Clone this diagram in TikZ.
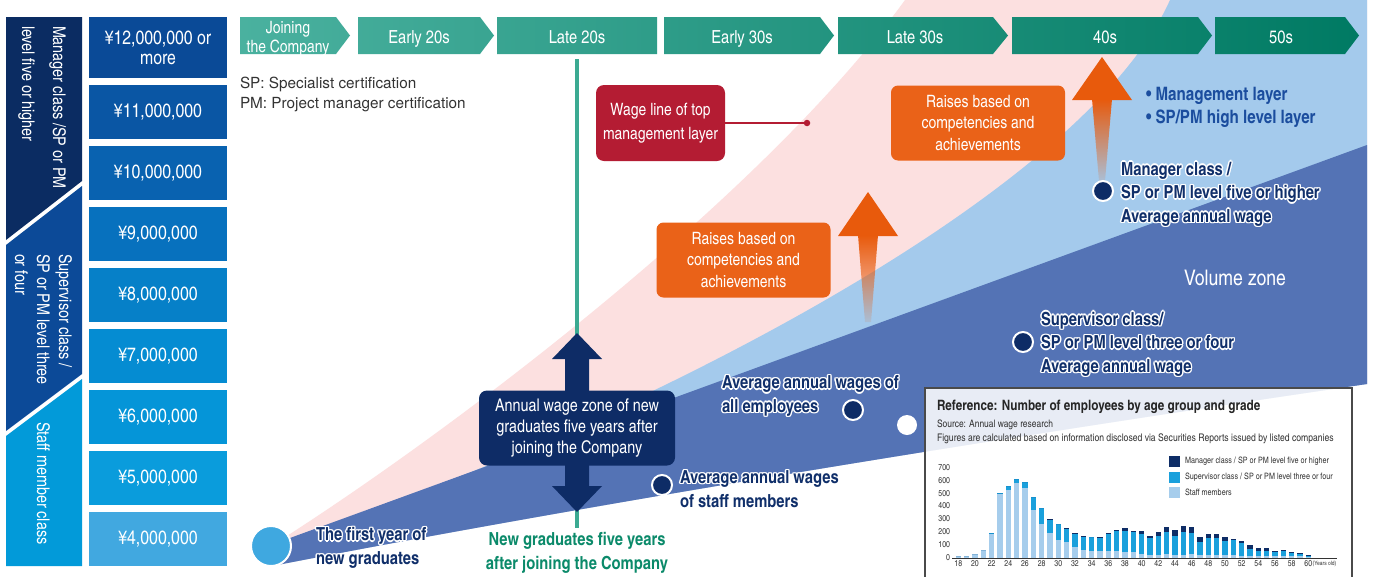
\documentclass[tikz,border=0pt]{standalone}
\usepackage{fontspec}
\setmainfont{texgyreheroscn}[Extension=.otf,UprightFont=*-regular,BoldFont=*-bold,ItalicFont=*-italic,BoldItalicFont=*-bolditalic]
\newfontfamily\widefont{TeX Gyre Heros}
\usetikzlibrary{fadings}
\definecolor{navy}{HTML}{0E2C66}
\definecolor{labnavy}{HTML}{102F6A}
\definecolor{bluezone}{HTML}{5473B5}
\definecolor{lightzone}{HTML}{A4CAEC}
\definecolor{pinkzone}{HTML}{FCE0E0}
\definecolor{wagered}{HTML}{B41C33}
\definecolor{raiseorange}{HTML}{EA6218}
\definecolor{arroworange}{HTML}{E85A0C}
\definecolor{tealline}{HTML}{3BAA92}
\definecolor{greentext}{HTML}{0B8A6A}
\definecolor{bullblue}{HTML}{1B4D9E}
\definecolor{mgrband}{HTML}{0B2C62}
\definecolor{supband}{HTML}{0C4A98}
\definecolor{staffband}{HTML}{029AD9}
\definecolor{tealA}{HTML}{4AB19F}
\definecolor{tealB}{HTML}{007A63}
\definecolor{firstdot}{HTML}{3FA8E0}
\definecolor{barmgr}{HTML}{0E2D66}
\definecolor{barsup}{HTML}{1AA0DC}
\definecolor{barstaff}{HTML}{A6CDEC}
\definecolor{inkgray}{HTML}{333333}
\definecolor{insetline}{HTML}{4A4A4A}
\definecolor{pA}{HTML}{0A4A97}
\definecolor{pB}{HTML}{0A56A4}
\definecolor{pC}{HTML}{0962B0}
\definecolor{pD}{HTML}{0771BE}
\definecolor{pE}{HTML}{0680C8}
\definecolor{pF}{HTML}{058CD2}
\definecolor{pG}{HTML}{0595D8}
\definecolor{pH}{HTML}{0A9CDC}
\definecolor{pI}{HTML}{41A8E0}
\tikzfading[name=fadedown, top color=transparent!0, bottom color=transparent!90]
\newcommand\fsz[2]{\fontsize{#1}{#2}\selectfont}
\newcommand\hlc[2]{\rlap{\kern#1\raisebox{#2}{\textcolor{white}{\copy0}}}}
\newcommand\hl[1]{\leavevmode\setbox0\hbox{#1}%
  \hlc{1.4pt}{0pt}\hlc{-1.4pt}{0pt}\hlc{0pt}{1.4pt}\hlc{0pt}{-1.4pt}%
  \hlc{1pt}{1pt}\hlc{-1pt}{1pt}\hlc{1pt}{-1pt}\hlc{-1pt}{-1pt}\box0}
\begin{document}
\begin{tikzpicture}[x=1pt,y=-1pt,
  every node/.style={inner sep=0pt,outer sep=0pt},
  chevtext/.style={text=white,font=\fsz{18}{20}},
  pricebox/.style={text=white,font=\fsz{19.3}{20},minimum width=138pt,minimum height=53.5pt,align=center},
  bandtext/.style={text=white,rotate=-90,anchor=north west,align=left},
  navybox/.style={fill=navy,rounded corners=8pt,text=white,align=center,font=\fsz{17.5}{21},minimum width=196pt,minimum height=75pt},
  redbox/.style={fill=wagered,rounded corners=8pt,text=white,align=center,font=\fsz{17}{24.5},minimum width=129pt,minimum height=76pt},
  raisebox/.style={fill=raiseorange,rounded corners=7pt,text=white,align=center,font=\fsz{17}{21.5},minimum width=174pt,minimum height=75pt},
  navydot/.style={circle,fill=navy,draw=white,line width=2pt,minimum size=20pt},
  hlabel/.style={text=labnavy,font=\bfseries\fsz{18}{23.5},align=left,anchor=west},
  axislab/.style={text=inkgray,font=\fsz{8.5}{9}},
  legtext/.style={text=inkgray,font=\fsz{8.8}{10},anchor=west},
  legsq/.style={minimum size=11pt}
]
\useasboundingbox (0,0) rectangle (1373,576);
\fill[white] (0,0) rectangle (1373,576);

% ---- zones
\fill[pinkzone] (268,548) .. controls (440,440) and (760,200) .. (905,0) -- (1367,0) -- (1367,384)
   .. controls (950,445) and (560,510) .. (272,566) -- cycle;
\fill[lightzone] (268,548) .. controls (620,430) and (1080,200) .. (1170,0) -- (1367,0) -- (1367,384)
   .. controls (950,445) and (560,510) .. (272,566) -- cycle;
\fill[bluezone] (268,546) -- (1367,145) -- (1367,384)
   .. controls (950,445) and (560,510) .. (272,566) -- cycle;

% ---- teal line of "late 20s"
\coordinate (tl1) at (577,59);
\coordinate (tl2) at (577,528);
\draw[tealline,line width=4.5pt] (tl1) -- (tl2);

% ---- navy double arrow and box
\fill[navy] (577,333) -- (602,359) -- (589,359) -- (589,486) -- (602,486) -- (577,512)
   -- (552,486) -- (565,486) -- (565,359) -- (552,359) -- cycle;
\node[navybox] (zone) at (577,428) {Annual wage zone of new\\graduates five years after\\joining the Company};

% ---- wage line of top management
\node[redbox] (wage) at (660.5,123) {Wage line of top\\management layer};
\node[circle,fill=wagered,minimum size=6.5pt] (wdot) at (807,123) {};
\draw[wagered,line width=1.6pt] (wage.east) -- (wdot.center);

% ---- raises boxes and orange arrows
\node[raisebox] (raise1) at (743.5,260) {Raises based on\\competencies and\\achievements};
\node[raisebox] (raise2) at (978,123) {Raises based on\\competencies and\\achievements};
\fill[arroworange] (868,192) -- (898,236) -- (838,236) -- cycle;
\fill[arroworange,path fading=fadedown] (858,235) -- (878,235) -- (871,322) -- (865,322) -- cycle;
\fill[arroworange] (1102,57) -- (1132,100) -- (1072,100) -- cycle;
\fill[arroworange,path fading=fadedown] (1092,99) -- (1112,99) -- (1105,181) -- (1099,181) -- cycle;

% ---- dots
\node[navydot] (mgrdot) at (1103,191) {};
\node[navydot] (supdot) at (1023,342) {};
\node[navydot] (alldot) at (853,410) {};
\node[navydot] (staffdot) at (662,485) {};
\node[circle,fill=white,minimum size=20pt] (whitedot) at (907,425) {};
\node[circle,fill=firstdot,draw=white,line width=2pt,minimum size=40pt] (firstdot) at (271,546) {};

% ---- labels
\node[hlabel] (mgrlab) at (1121,194) {\hl{Manager class /}\\\hl{SP or PM level five or higher}\\\hl{Average annual wage}};
\node[hlabel] (suplab) at (1041,344) {\hl{Supervisor class/}\\\hl{SP or PM level three or four}\\\hl{Average annual wage}};
\node[hlabel] (alllab) at (722,396) {\hl{Average annual wages of}\\\hl{all employees}};
\node[hlabel] (stafflab) at (680,489) {\hl{Average annual wages}\\\hl{of staff members}};
\node[hlabel] (firstlab) at (316,548) {\hl{The first year of}\\\hl{new graduates}};
\node[text=greentext,font=\bfseries\fsz{18}{24},align=center] (newgrad) at (577,553) {New graduates five years\\after joining the Company};
\node[text=white,font=\fsz{21.5}{24}] (volume) at (1235,278) {Volume zone};
\node[text=bullblue,font=\bfseries\fsz{18.5}{23},align=left,anchor=west] (bullets) at (1146,107)
  {\textbullet\ Management layer\\\textbullet\ SP/PM high level layer};
\node[text=inkgray,font=\widefont\fsz{15.3}{20},align=left,anchor=west] (abbr) at (240,94)
  {SP: Specialist certification\\PM: Project manager certification};

% ---- inset chart
\filldraw[fill=white,fill opacity=0.87,draw=insetline,line width=1.2pt] (925,388) rectangle (1352,590);
\node[text=black!85,font=\bfseries\fsz{14.3}{16},anchor=west] (ititle) at (937,407) {Reference: Number of employees by age group and grade};
\node[text=inkgray,font=\fsz{10.3}{11},anchor=west] (isrc) at (937,425) {Source: Annual wage research};
\node[text=inkgray,font=\fsz{10.5}{11},anchor=west] (ifig) at (937,438.5) {Figures are calculated based on information disclosed via Securities Reports issued by listed companies};
\node[legsq,fill=barmgr] (lg1) at (1174.5,461) {};
\node[legsq,fill=barsup] (lg2) at (1174.5,477.5) {};
\node[legsq,fill=barstaff] (lg3) at (1174.5,492.5) {};
\node[legtext] (lt1) at (1185,461) {Manager class / SP or PM level five or higher};
\node[legtext] (lt2) at (1185,477.5) {Supervisor class / SP or PM level three or four};
\node[legtext] (lt3) at (1185,492.5) {Staff members};
\foreach \v in {0,100,...,700}{
  \node[axislab,anchor=east] (yl\v) at (950,557.5-\v*0.1286) {\v};
}
\foreach \a/\s/\u/\m in {18/8/0/0,19/15/0/0,20/30/0/0,21/62/0/0,22/182/6/0,23/490/8/0,24/528/25/0,25/577/35/0,
  26/537/52/0,27/371/96/0,28/264/122/0,29/187/111/3,30/140/124/0,31/117/104/5,32/78/104/5,33/62/99/5,
  34/54/102/0,35/47/106/5,36/54/133/7,37/47/160/8,38/39/164/23,39/39/160/8,40/31/155/21,41/23/129/16,
  42/23/145/34,43/31/164/44,44/23/145/47,45/23/179/44,46/31/156/52,47/23/101/39,48/23/125/36,49/23/125/36,
  50/23/106/34,51/18/119/8,52/13/101/16,53/13/57/29,54/8/44/23,55/13/39/23,56/8/31/13,57/13/39/8,
  58/8/26/10,59/8/18/10,60/5/11/5}{
  \pgfmathsetmacro\bx{958.3+(\a-18)*8.333}
  \pgfmathsetmacro\ya{557.5-\s*0.1286}
  \pgfmathsetmacro\yb{557.5-(\s+\u)*0.1286}
  \pgfmathsetmacro\yc{557.5-(\s+\u+\m)*0.1286}
  \fill[barstaff] (\bx-2.6,557.5) rectangle (\bx+2.6,\ya);
  \fill[barsup] (\bx-2.6,\ya) rectangle (\bx+2.6,\yb);
  \fill[barmgr] (\bx-2.6,\yb) rectangle (\bx+2.6,\yc);
}
\coordinate (ax1) at (952,558);
\coordinate (ax2) at (1337,558);
\draw[inkgray,line width=0.8pt] (ax1) -- (ax2);
\foreach \a in {18,20,...,60}{
  \node[axislab,anchor=north] (xl\a) at (958.3+\a*8.333-150,560.5) {\a};
}
\node[axislab,font=\fsz{6}{7},anchor=west] (yrs) at ([xshift=0.5pt]xl60.east) {(Years old)};

% ---- top age chevrons
\shade[left color=tealA,right color=tealB]
  (240,17) -- (336,17) -- (350,35.5) -- (336,54) -- (240,54) -- cycle
  (358,17) -- (480,17) -- (494,35.5) -- (480,54) -- (358,54) -- cycle
  (497,17) -- (657,17) -- (657,54) -- (497,54) -- cycle
  (664,17) -- (820,17) -- (834,35.5) -- (820,54) -- (664,54) -- cycle
  (838,17) -- (993,17) -- (1008,35.5) -- (993,54) -- (838,54) -- cycle
  (1012,17) -- (1198,17) -- (1212,35.5) -- (1198,54) -- (1012,54) -- cycle
  (1215,17) -- (1345,17) -- (1359,35.5) -- (1345,54) -- (1215,54) -- cycle;
\node[chevtext,font=\fsz{17}{19},align=center] (c1) at (288,39) {Joining\\the Company};
\node[chevtext,anchor=base] (c2) at (419,43.5) {Early 20s};
\node[chevtext,anchor=base] (c3) at (577,43.5) {Late 20s};
\node[chevtext,anchor=base] (c4) at (742,43.5) {Early 30s};
\node[chevtext,anchor=base] (c5) at (915,43.5) {Late 30s};
\node[chevtext,anchor=base] (c6) at (1105,43.5) {40s};
\node[chevtext,anchor=base] (c7) at (1281,43.5) {50s};

% ---- left class bands
\fill[mgrband] (6,17) -- (82,17) -- (82,181) -- (6,240) -- cycle;
\fill[supband] (6,245) -- (82,186) -- (82,374) -- (6,431) -- cycle;
\fill[staffband] (6,436) -- (82,379) -- (82,566) -- (6,566) -- cycle;
\node[bandtext,font=\fsz{17.5}{31}] (bmgr) at (66,26) {Manager class /SP or PM\\level five or higher};
\node[bandtext,font=\fsz{17.5}{22}] (bsup) at (72,254) {Supervisor class /\\SP or PM level three\\or four};
\node[bandtext,font=\fsz{17.5}{22}] (bstaff) at (50,422) {Staff member class};

% ---- wage boxes
\node[pricebox,fill=pA,minimum height=61pt] (p12) at (158,47.5) {¥12,000,000 or\\more};
\node[pricebox,fill=pB] (p11) at (158,111.75) {¥11,000,000};
\node[pricebox,fill=pC] (p10) at (158,172.75) {¥10,000,000};
\node[pricebox,fill=pD] (p9) at (158,233.75) {¥9,000,000};
\node[pricebox,fill=pE] (p8) at (158,294.75) {¥8,000,000};
\node[pricebox,fill=pF] (p7) at (158,355.75) {¥7,000,000};
\node[pricebox,fill=pG] (p6) at (158,416.75) {¥6,000,000};
\node[pricebox,fill=pH] (p5) at (158,477.75) {¥5,000,000};
\node[pricebox,fill=pI] (p4) at (158,538.75) {¥4,000,000};
\end{tikzpicture}
\end{document}
